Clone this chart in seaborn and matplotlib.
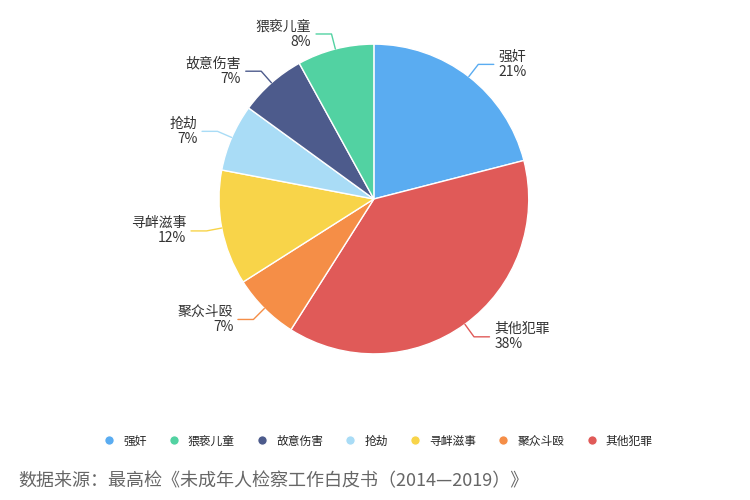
import numpy as np
import matplotlib
matplotlib.use("Agg")
import matplotlib.pyplot as plt
import seaborn as sns
from matplotlib.lines import Line2D

sns.set_theme(style="white")
plt.rcParams["font.family"] = "Noto Sans CJK SC"

categories = ["强奸", "其他犯罪", "聚众斗殴", "寻衅滋事", "抢劫", "故意伤害", "猥亵儿童"]
values = [21, 38, 7, 12, 7, 7, 8]
colors = ["#5aacf1", "#e05a58", "#f58e47", "#f8d449", "#a9dcf6", "#4d5b8c", "#52d2a2"]
legend_order = ["强奸", "猥亵儿童", "故意伤害", "抢劫", "寻衅滋事", "聚众斗殴", "其他犯罪"]
source = "数据来源：最高检《未成年人检察工作白皮书（2014—2019）》"

fig = plt.figure(figsize=(7.5, 5), dpi=100)
ax = fig.add_axes([0.292, 0.292, 0.413, 0.62])
wedges, _ = ax.pie(values, colors=colors, startangle=90, counterclock=False,
                   wedgeprops=dict(edgecolor="white", linewidth=1))
ax.set_aspect("equal")
ax.set_xlim(-1, 1); ax.set_ylim(-1, 1)

for w, c, v, col in zip(wedges, categories, values, colors):
    ang = np.deg2rad((w.theta1 + w.theta2) / 2)
    x, y = np.cos(ang), np.sin(ang)
    ex, ey = 1.1 * x, 1.1 * y
    s = 1 if x >= 0 else -1
    hx = ex + s * 0.1
    ax.plot([x, ex, hx], [y, ey, ey], color=col, lw=1, clip_on=False)
    ax.text(hx + s * 0.03, ey, f"{c}\n{v}%", ha="left" if s > 0 else "right",
            va="center", fontsize=10, color="#333333", linespacing=1.1, clip_on=False)

handles = [Line2D([0], [0], marker="o", color="w", markerfacecolor=colors[categories.index(n)],
                  markersize=7, label=n) for n in legend_order]
fig.legend(handles=handles, loc="center", bbox_to_anchor=(0.5, 0.118), ncol=7,
           frameon=False, fontsize=8.5, handletextpad=0.2, columnspacing=1.3)
fig.text(0.024, 0.02, source, fontsize=13, color="#666666", ha="left", va="bottom")
fig.savefig("out.png", dpi=100)
